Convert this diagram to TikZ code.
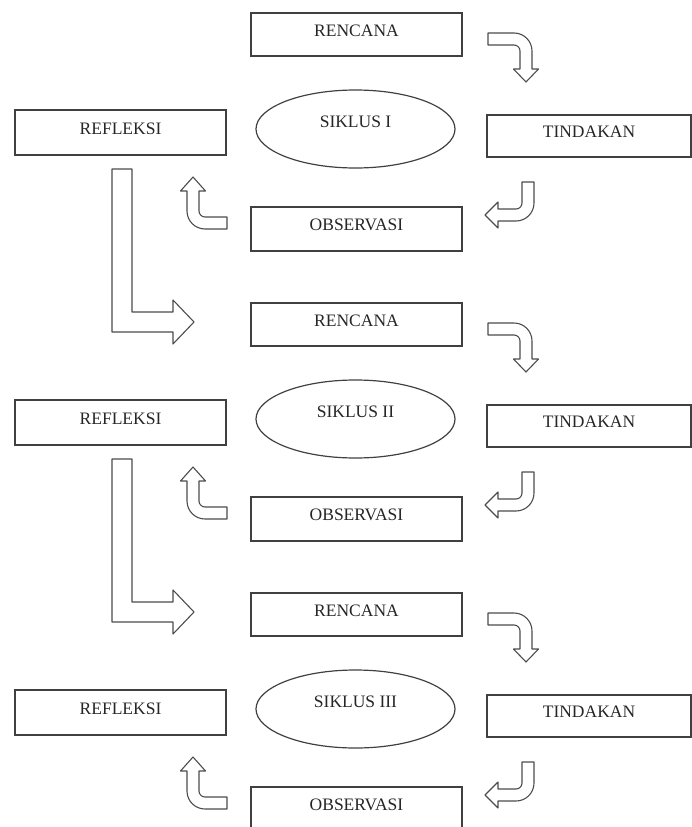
\documentclass[tikz,border=0pt]{standalone}
\usepackage{fontspec}
\setmainfont{Liberation Serif}
\usetikzlibrary{shapes.geometric}

\begin{document}
\begin{tikzpicture}[x=1pt, y=-1pt,
    label font/.style={font=\fontsize{17.5}{20}\selectfont, text=black!85},
    box/.style={draw=black!75, line width=1.3pt, rectangle, inner sep=0pt, text depth=8pt, label font},
    cycle/.style={draw=black!75, line width=1.2pt, ellipse, inner sep=0pt, minimum width=199pt, minimum height=78pt, text depth=14pt, label font},
    blk/.style={draw=black!70, line width=1.1pt, line join=round}]
    \useasboundingbox (0,0) rectangle (692,827);

    \foreach \i/\r in {1/I, 2/II, 3/III} {
        \pgfmathsetmacro\dy{(\i-1)*290}
        \begin{scope}[shift={(0,\dy)}]
            % Nodes
            \node (ren\i) [box, minimum width=211pt, minimum height=43pt] at (356.5,34.5) {RENCANA};
            \node (sik\i) [cycle] at (355.5,129) {SIKLUS \r};
            \node (tin\i) [box, minimum width=204pt, minimum height=42pt] at (589,136) {TINDAKAN};
            \node (obs\i) [box, minimum width=211pt, minimum height=44pt] at (356.5,229) {OBSERVASI};
            \node (ref\i) [box, minimum width=211pt, minimum height=45pt] at (120.5,132.5) {REFLEKSI};

            % Arrows
            \draw[blk] (488,33) -- (514,33) arc[start angle=-90, end angle=0, radius=18]
                -- (532,69) -- (538.5,69) -- (526,82) -- (513.5,69) -- (520,69)
                -- (520,51) arc[start angle=0, end angle=-90, radius=6] -- (488,45) -- cycle;
            \draw[blk] (522,182) -- (534,182) -- (534,203) arc[start angle=0, end angle=90, radius=18]
                -- (498,221) -- (498,228) -- (485,215) -- (498,202) -- (498,209)
                -- (516,209) arc[start angle=90, end angle=0, radius=6] -- cycle;
            \draw[blk] (227,217) -- (205,217) arc[start angle=90, end angle=180, radius=6]
                -- (199,191) -- (205.5,191) -- (193,177) -- (180.5,191) -- (187,191)
                -- (187,211) arc[start angle=180, end angle=90, radius=18] -- (227,229) -- cycle;
            \ifnum\i<3
                \draw[blk] (112,169) -- (132,169) -- (132,312) -- (173,312) -- (173,300)
                    -- (194,322) -- (173,344) -- (173,332) -- (112,332) -- cycle;
            \fi
        \end{scope}
    }
\end{tikzpicture}
\end{document}
